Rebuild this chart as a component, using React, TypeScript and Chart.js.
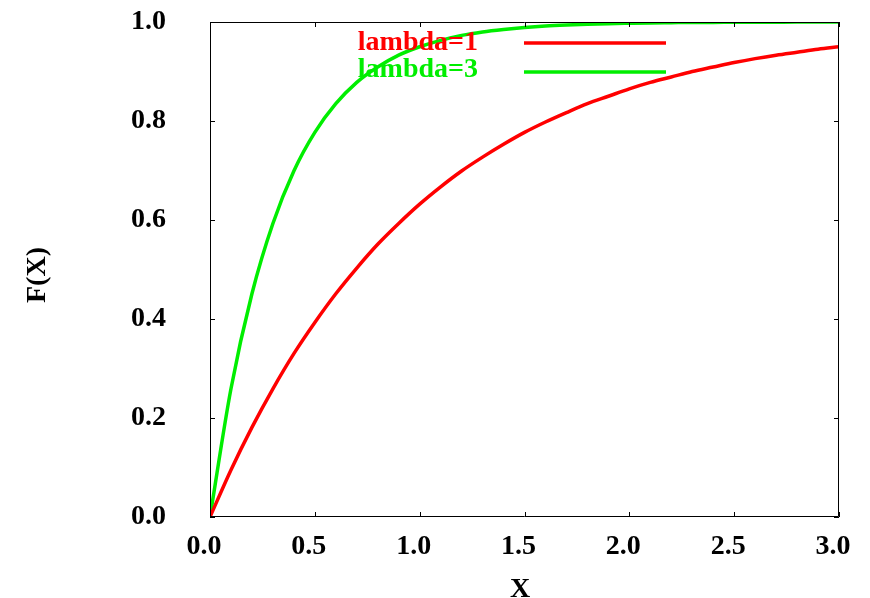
import React, { useEffect, useRef } from "react";
import { Chart, registerables } from "chart.js";

Chart.register(...registerables);

const xValues = [0, 0.1, 0.2, 0.3, 0.4, 0.5, 0.6, 0.7, 0.8, 0.9, 1.0, 1.1, 1.2, 1.3, 1.4, 1.5, 1.6, 1.7, 1.8, 1.9, 2.0, 2.1, 2.2, 2.3, 2.4, 2.5, 2.6, 2.7, 2.8, 2.9, 3.0];
const lambda1 = [0, 0.095, 0.181, 0.259, 0.33, 0.393, 0.451, 0.503, 0.551, 0.593, 0.632, 0.667, 0.699, 0.727, 0.753, 0.777, 0.798, 0.817, 0.835, 0.85, 0.865, 0.878, 0.889, 0.9, 0.909, 0.918, 0.926, 0.933, 0.939, 0.945, 0.95];
const lambda3 = [0, 0.259, 0.451, 0.593, 0.699, 0.777, 0.835, 0.878, 0.909, 0.933, 0.95, 0.963, 0.973, 0.98, 0.985, 0.989, 0.992, 0.994, 0.9955, 0.9967, 0.9975, 0.9982, 0.9986, 0.999, 0.9992, 0.9994, 0.9996, 0.9997, 0.9998, 0.9998, 0.9999];
const seriesLabels = ["lambda=1", "lambda=3"];
const seriesColors = ["#ff0000", "#00ee00"];
const xTitle = "X";
const yTitle = "F(X)";

const FONT = '"Liberation Serif", "Times New Roman", serif';

const gnuplotPlugin = {
  id: "gnuplotDecor",
  afterDraw(chart: any) {
    const ctx = chart.ctx;
    const { left, right, top, bottom } = chart.chartArea;
    const xs = chart.scales.x;
    const ys = chart.scales.y;
    ctx.save();
    ctx.strokeStyle = "#000";
    ctx.lineWidth = 1;
    ctx.beginPath();
    ctx.rect(Math.round(left) + 0.5, Math.round(top) + 0.5, Math.round(right - left) - 1, Math.round(bottom - top) - 1);
    ctx.stroke();
    const tl = 5;
    ctx.beginPath();
    xs.ticks.forEach((t: any) => {
      const px = Math.round(xs.getPixelForValue(t.value)) + 0.5;
      ctx.moveTo(px, bottom);
      ctx.lineTo(px, bottom - tl);
      ctx.moveTo(px, top);
      ctx.lineTo(px, top + tl);
    });
    ys.ticks.forEach((t: any) => {
      const py = Math.round(ys.getPixelForValue(t.value)) + 0.5;
      ctx.moveTo(left, py);
      ctx.lineTo(left + tl, py);
      ctx.moveTo(right, py);
      ctx.lineTo(right - tl, py);
    });
    ctx.stroke();

    // titles
    ctx.fillStyle = "#000";
    ctx.font = `bold 28px ${FONT}`;
    ctx.textAlign = "center";
    ctx.textBaseline = "alphabetic";
    ctx.fillText(xTitle, 520, 597);
    ctx.save();
    ctx.translate(38, 275);
    ctx.rotate(-Math.PI / 2);
    ctx.textBaseline = "middle";
    ctx.fillText(yTitle, 0, 0);
    ctx.restore();

    // legend (gnuplot style)
    ctx.font = `bold 28px ${FONT}`;
    ctx.textAlign = "right";
    ctx.textBaseline = "middle";
    const textRows = [43, 70];
    const lineRows = [43, 72];
    seriesLabels.forEach((lab, i) => {
      ctx.fillStyle = seriesColors[i];
      ctx.fillText(lab, 478, textRows[i]);
      ctx.strokeStyle = seriesColors[i];
      ctx.lineWidth = 3.5;
      ctx.beginPath();
      ctx.moveTo(524, lineRows[i]);
      ctx.lineTo(666, lineRows[i]);
      ctx.stroke();
    });
    ctx.restore();
  },
};

export default function App() {
  const ref = useRef<HTMLCanvasElement | null>(null);
  useEffect(() => {
    if (!ref.current) return;
    const mk = (ys: number[]) => xValues.map((x, i) => ({ x, y: ys[i] }));
    const chart = new Chart(ref.current, {
      type: "line",
      data: {
        datasets: [
          {
            label: seriesLabels[0],
            data: mk(lambda1),
            borderColor: seriesColors[0],
            borderWidth: 3.5,
            pointRadius: 0,
            cubicInterpolationMode: "monotone",
          },
          {
            label: seriesLabels[1],
            data: mk(lambda3),
            borderColor: seriesColors[1],
            borderWidth: 3.5,
            pointRadius: 0,
            cubicInterpolationMode: "monotone",
          },
        ],
      },
      options: {
        animation: false,
        responsive: false,
        maintainAspectRatio: false,
        layout: { padding: { top: 22, right: 31, left: 0, bottom: 0 } },
        plugins: { legend: { display: false }, tooltip: { enabled: false } },
        scales: {
          x: {
            type: "linear",
            min: 0,
            max: 3,
            border: { display: false },
            grid: { display: false, drawTicks: false },
            ticks: {
              stepSize: 0.5,
              padding: 13,
              labelOffset: -6,
              color: "#000",
              font: { family: FONT, size: 28, weight: "bold" },
              maxRotation: 0,
              autoSkip: false,
              callback: (v: any) => Number(v).toFixed(1),
            },
            afterFit: (s: any) => {
              s.height = 598 - 517;
              s.paddingLeft = 0;
              s.paddingRight = 0;
            },
          },
          y: {
            type: "linear",
            min: 0,
            max: 1,
            border: { display: false },
            grid: { display: false, drawTicks: false },
            ticks: {
              stepSize: 0.2,
              padding: 44,
              color: "#000",
              font: { family: FONT, size: 28, weight: "bold" },
              autoSkip: false,
              callback: (v: any) => Number(v).toFixed(1),
            },
            afterFit: (s: any) => {
              s.width = 210;
              s.paddingTop = 0;
              s.paddingBottom = 0;
            },
          },
        },
      },
      plugins: [gnuplotPlugin],
    });
    return () => chart.destroy();
  }, []);
  return (
    <div style={{ position: "absolute", left: 0, top: 0, width: 870, height: 598, background: "#fff" }}>
      <canvas ref={ref} width={870} height={598} style={{ display: "block" }} />
    </div>
  );
}
